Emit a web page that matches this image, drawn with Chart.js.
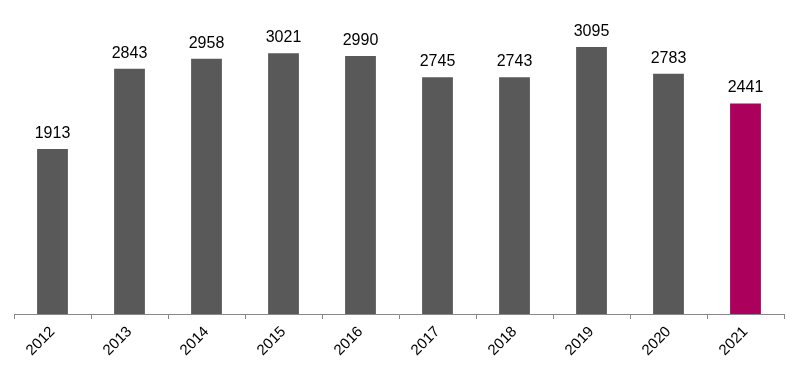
<!DOCTYPE html>
<html>
<head>
<meta charset="utf-8">
<script src="https://cdn.jsdelivr.net/npm/chart.js@4"></script>
<style>
html,body{margin:0;padding:0;background:#fff;}
#wrap{width:800px;height:372px;position:relative;}
</style>
</head>
<body>
<div id="wrap"><canvas id="c" width="800" height="372"></canvas></div>
<script>
const categories = ["2012","2013","2014","2015","2016","2017","2018","2019","2020","2021"];
const values = [1913, 2843, 2958, 3021, 2990, 2745, 2743, 3095, 2783, 2441];
const barColors = ["#595959","#595959","#595959","#595959","#595959","#595959","#595959","#595959","#595959","#ab005c"];

const labelPlugin = {
  id: 'valueLabels',
  afterDatasetsDraw(chart) {
    const ctx = chart.ctx;
    const meta = chart.getDatasetMeta(0);
    ctx.save();
    ctx.fillStyle = '#000';
    ctx.font = '16px "Liberation Sans", Arial, sans-serif';
    ctx.textAlign = 'center';
    ctx.textBaseline = 'alphabetic';
    meta.data.forEach((bar, i) => {
      ctx.fillText(String(chart.data.datasets[0].data[i]), bar.x, bar.y - 11);
    });
    ctx.restore();
  }
};

new Chart(document.getElementById('c'), {
  type: 'bar',
  data: {
    labels: categories,
    datasets: [{
      data: values,
      backgroundColor: barColors,
      barPercentage: 0.8,
      categoryPercentage: 0.5
    }]
  },
  options: {
    responsive: false,
    animation: false,
    devicePixelRatio: 1,
    layout: { padding: { top: 12, left: 14, right: 16, bottom: 0 } },
    plugins: { legend: { display: false }, tooltip: { enabled: false } },
    scales: {
      y: { display: false, min: 0, max: 3500 },
      x: {
        afterFit(scale) { scale.height = 58; },
        border: { display: true, color: '#888888', width: 1 },
        grid: { offset: true, drawOnChartArea: false, drawTicks: true, tickLength: 5, color: '#888888' },
        ticks: {
          color: '#000',
          minRotation: 45,
          maxRotation: 45,
          padding: 4,
          font: { family: '"Liberation Sans", Arial, sans-serif', size: 15 }
        }
      }
    }
  },
  plugins: [labelPlugin]
});
</script>
</body>
</html>
